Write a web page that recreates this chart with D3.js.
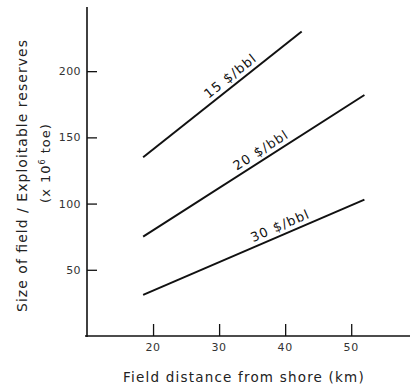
<!DOCTYPE html>
<html><head><meta charset="utf-8">
<script src="https://cdn.jsdelivr.net/npm/d3@7"></script>
<style>body{margin:0;background:#fff}svg{display:block}text{font-family:"DejaVu Sans",sans-serif}</style>
</head><body>
<svg id="c" width="411" height="386"></svg>
<script>
const seriesNames = ["15 $/bbl", "20 $/bbl", "30 $/bbl"];
const xStart = [18.5, 18.5, 18.5];
const xEnd = [42.5, 52, 52];
const yStart = [135, 75, 31];
const yEnd = [230, 182, 103];
const labelAt = [32.6, 37.1, 39.8];
const xTicks = [20, 30, 40, 50];
const yTicks = [50, 100, 150, 200];
const xTitle = "Field distance from shore (km)";
const yTitle1 = "Size of field / Exploitable reserves";

const svg = d3.select("#c");
const x = d3.scaleLinear().domain([10, 58.9]).range([87, 410]);
const y = d3.scaleLinear().domain([0, 248]).range([336, 7.6]);

// axes
const xa = svg.append("g").attr("transform", "translate(0,336)")
  .call(d3.axisTop(x).tickValues(xTicks).tickSize(12).tickFormat(""));
xa.select(".domain").attr("d", `M85,0H410`).attr("stroke", "#111").attr("stroke-width", 1.6);
xa.selectAll(".tick line").attr("stroke", "#111").attr("stroke-width", 1.3);
svg.append("g").selectAll("text").data(xTicks).join("text")
  .attr("x", d => x(d)).attr("y", 351).attr("text-anchor", "middle")
  .attr("font-size", 11).attr("letter-spacing", 0.6).attr("fill", "#333").text(d => d);

const ya = svg.append("g").attr("transform", "translate(87,0)")
  .call(d3.axisRight(y).tickValues(yTicks).tickSize(10).tickFormat(""));
ya.select(".domain").attr("d", `M0,7V337`).attr("stroke", "#111").attr("stroke-width", 1.6);
ya.selectAll(".tick line").attr("stroke", "#111").attr("stroke-width", 1.3);
svg.append("g").selectAll("text").data(yTicks).join("text")
  .attr("x", 81).attr("y", d => y(d) + 4).attr("text-anchor", "end")
  .attr("font-size", 11).attr("letter-spacing", 0.4).attr("fill", "#333").text(d => d);

// titles
svg.append("text").attr("x", 244).attr("y", 382).attr("text-anchor", "middle")
  .attr("font-size", 13.5).attr("letter-spacing", 1.2).attr("fill", "#222").text(xTitle);
svg.append("text").attr("transform", "translate(27,176) rotate(-90)").attr("text-anchor", "middle")
  .attr("font-size", 14).attr("fill", "#222").attr("textLength", 272).attr("lengthAdjust", "spacing").text(yTitle1);
const t2 = svg.append("text").attr("transform", "translate(50,163) rotate(-90)").attr("text-anchor", "middle")
  .attr("font-size", 13).attr("fill", "#222").attr("letter-spacing", 1);
t2.append("tspan").text("(x 10");
t2.append("tspan").attr("dy", -5).attr("font-size", 8).text("6");
t2.append("tspan").attr("dy", 5).text(" toe)");

// lines
const line = d3.line().x(d => x(d[0])).y(d => y(d[1]));
seriesNames.forEach((name, i) => {
  svg.append("path").attr("d", line([[xStart[i], yStart[i]], [xEnd[i], yEnd[i]]]))
    .attr("fill", "none").attr("stroke", "#111").attr("stroke-width", 2);
  const slope = (yEnd[i] - yStart[i]) / (xEnd[i] - xStart[i]);
  const lx = labelAt[i], ly = yStart[i] + (lx - xStart[i]) * slope;
  const ang = Math.atan2(y(yEnd[i]) - y(yStart[i]), x(xEnd[i]) - x(xStart[i])) * 180 / Math.PI;
  svg.append("text").attr("transform", `translate(${x(lx)},${y(ly)}) rotate(${ang})`)
    .attr("y", -5).attr("text-anchor", "middle").attr("font-size", 13)
    .attr("letter-spacing", 1.2).attr("fill", "#111").text(name);
});
</script>
</body></html>
